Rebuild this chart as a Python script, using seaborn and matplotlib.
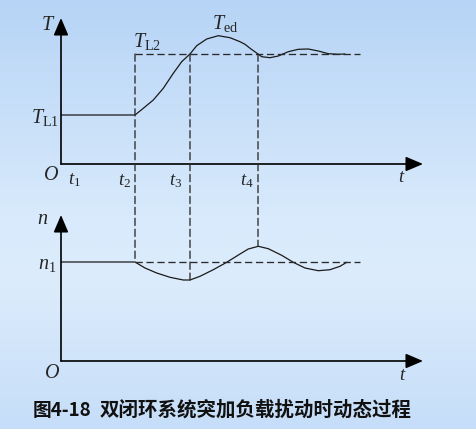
import numpy as np
import pandas as pd
import seaborn as sns
import matplotlib.pyplot as plt
from matplotlib.patches import ConnectionPatch

# time marks and levels (schematic units)
t_marks = {"t2": 74, "t3": 129, "t4": 197}
T_L1, T_L2 = 49, 110
n_1 = 99
dash_end = 299

# torque response T(t)
T_t = [0, 74, 82.3, 92.3, 102.3, 112.3, 120.7, 129, 135.7, 145.7, 157.3, 169, 179,
       184, 190, 197, 200.7, 209, 217.3, 227.3, 237.3, 247.3, 257.3, 267.3, 277.3, 284]
T_v = [49, 49, 55.7, 64, 75.7, 90.7, 102.3, 110, 118.3, 125, 128.3, 126.3, 122.3,
       119.7, 115, 110, 107.3, 106.3, 108, 112.3, 114.7, 115, 113, 110.3, 109.7, 110]

# speed response n(t)
n_t = [0, 74, 84, 95.7, 109, 122.3, 129, 139, 152.3, 165.7, 179, 187.3, 197.3,
       207.3, 220.7, 232.3, 244, 257.3, 269, 279, 285.7]
n_v = [99, 99, 93, 88, 83.7, 81, 81, 84.7, 91.3, 98.7, 107, 112, 114.7,
       112.3, 105.7, 98.7, 93, 90.3, 91.3, 94.7, 98.7]

caption_a = "图4-18"
caption_b = "双闭环系统突加负载扰动时动态过程"

sns.set_style("white")
plt.rcParams["font.family"] = ["Liberation Serif", "DejaVu Sans"]
plt.rcParams["mathtext.fontset"] = "custom"
plt.rcParams["mathtext.rm"] = "Liberation Serif"
plt.rcParams["mathtext.it"] = "Liberation Serif:italic"

W, H = 477, 429
fig = plt.figure(figsize=(W / 100, H / 100), dpi=100)

# background gradient
bg = fig.add_axes([0, 0, 1, 1], zorder=-10)
stops_y = [0.0, 0.5, 0.65, 1.0]
stops_c = [(183, 212, 246), (216, 234, 252), (220, 236, 252), (198, 222, 249)]
yy = np.linspace(0, 1, 200)
grad = np.stack([np.interp(yy, stops_y, [c[i] for c in stops_c]) for i in range(3)], axis=-1) / 255
bg.imshow(grad[:, None, :], aspect="auto", extent=[0, 1, 1, 0])
bg.set_axis_off()

x0, ax_w, ax_h = 61, 362, 146
ax1 = fig.add_axes([x0 / W, (H - 164) / H, ax_w / W, ax_h / H])
ax2 = fig.add_axes([x0 / W, (H - 361) / H, ax_w / W, ax_h / H])

curve_kw = dict(color="#1a1a1a", linewidth=0.9)
dash_kw = dict(color="#2a2a2a", linewidth=0.95, linestyle=(0, (5.5, 2.8)))

for ax in (ax1, ax2):
    ax.set_facecolor("none")
    ax.set_xlim(0, ax_w)
    ax.set_ylim(0, ax_h)
    for s in ax.spines.values():
        s.set_visible(False)
    ax.set_xticks([])
    ax.set_yticks([])
    arrow = dict(arrowstyle="-|>,head_length=0.75,head_width=0.32", color="black", lw=1.2,
                 mutation_scale=14, shrinkA=0, shrinkB=0)
    ax.annotate("", xy=(1, 0), xytext=(0, 0), xycoords="axes fraction", arrowprops=arrow)
    ax.annotate("", xy=(0, 1), xytext=(0, 0), xycoords="axes fraction", arrowprops=arrow)

dfT = pd.DataFrame({"t": T_t, "T": T_v})
dfn = pd.DataFrame({"t": n_t, "n": n_v})
sns.lineplot(data=dfT, x="t", y="T", ax=ax1, sort=False, estimator=None, **curve_kw)
sns.lineplot(data=dfn, x="t", y="n", ax=ax2, sort=False, estimator=None, **curve_kw)
for ax in (ax1, ax2):
    ax.set_xlabel("")
    ax.set_ylabel("")

ax1.plot([t_marks["t2"], dash_end], [T_L2, T_L2], **dash_kw)
ax2.plot([t_marks["t2"], dash_end], [n_1, n_1], **dash_kw)

# vertical guides crossing both panels
bottom_ends = {"t2": n_1, "t3": min(n_v), "t4": max(n_v)}
for k, tv in t_marks.items():
    con = ConnectionPatch(xyA=(tv, T_L2), coordsA=ax1.transData,
                          xyB=(tv, bottom_ends[k]), coordsB=ax2.transData, **dash_kw)
    fig.add_artist(con)

fs = 14.5
ax1.text(-13, 138, r"$T$", fontsize=fs, ha="center", va="center")
ax1.text(86, 122, r"$T_{\mathrm{L2}}$", fontsize=fs, ha="center", va="center")
ax1.text(164, 140, r"$T_{\mathrm{ed}}$", fontsize=fs, ha="center", va="center")
ax1.text(-16, 47, r"$T_{\mathrm{L1}}$", fontsize=fs, ha="center", va="center")
ax1.text(-10, -12, r"$O$", fontsize=fs, ha="center", va="center")
ax1.text(13, -16, r"$t_1$", fontsize=13.5, ha="center", va="center")
for k, dx in (("t2", -10), ("t3", -14), ("t4", -11)):
    ax1.text(t_marks[k] + dx, -17, r"$t_%s$" % k[1], fontsize=13.5, ha="center", va="center")
ax1.text(341, -14, r"$t$", fontsize=13.5, ha="center", va="center")

ax2.text(-18, 141, r"$n$", fontsize=fs, ha="center", va="center")
ax2.text(-14, 96, r"$n_1$", fontsize=fs, ha="center", va="center")
ax2.text(-9, -12, r"$O$", fontsize=fs, ha="center", va="center")
ax2.text(342, -14, r"$t$", fontsize=13.5, ha="center", va="center")

cap_y = 1 - 410 / H
fig.text(33 / W, cap_y, caption_a, fontsize=13.5, fontweight="bold", ha="left", va="center",
         family=["Noto Sans CJK SC", "DejaVu Sans"], color="#111111")
fig.text(100 / W, cap_y, caption_b, fontsize=14, fontweight="bold", ha="left", va="center",
         family=["Noto Sans CJK SC", "DejaVu Sans"], color="#111111")

fig.savefig("out.png", dpi=100)
